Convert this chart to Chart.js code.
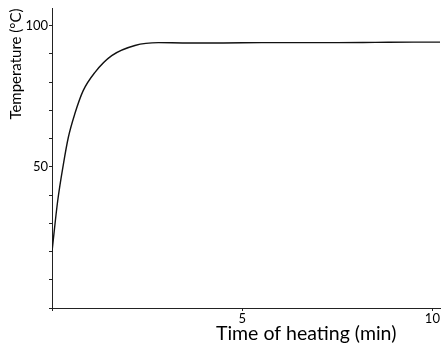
<!DOCTYPE html>
<html>
<head>
<meta charset="utf-8">
<script src="https://cdn.jsdelivr.net/npm/chart.js@4/dist/chart.umd.min.js"></script>
<style>
  html, body { margin: 0; padding: 0; background: #ffffff; }
  #wrap { width: 442px; height: 346px; }
</style>
</head>
<body>
<div id="wrap"><canvas id="heatChart" width="442" height="346"></canvas></div>
<script>
// heating time (min) and temperature (°C)
const times = [0, 0.15, 0.3, 0.43, 0.6, 0.82, 1.13, 1.57, 2.18, 2.8, 3.5, 4.5, 5.5, 6.5, 7.5, 8.5, 9.5, 10.2];
const temps = [20, 38, 51, 60.5, 68.8, 77, 83.5, 89.4, 93, 94, 93.9, 93.9, 94, 94, 94, 94.1, 94.2, 94.2];

const yLabelled = [50, 100];
const xLabelled = [5, 10];
const xTitle = 'Time of heating (min)';
const yTitle = 'Temperature (°C)';

const axisTitles = {
    id: 'axisTitles',
    afterDraw(chart) {
        const c = chart.ctx;
        const area = chart.chartArea;
        c.save();
        c.fillStyle = '#000';
        c.textAlign = 'center';
        c.textBaseline = 'middle';
        // x title, right of centre like the original
        c.font = '19.5px Lato';
        c.fillText(xTitle, area.left + 0.655 * (area.right - area.left), 334);
        // y title, near the top of the axis
        c.translate(16, 64);
        c.rotate(-Math.PI / 2);
        c.font = '15px Lato';
        c.fillText(yTitle, 0, 0);
        c.restore();
    }
};

ctx = document.getElementById('heatChart').getContext('2d');
Chart.defaults.color = '#000000';
Chart.defaults.font.family = 'Lato';

heatChart = new Chart(ctx, {
    type: 'line',
    data: {
        datasets: [
            { data: times.map((t, i) => ({x: t, y: temps[i]})), borderColor: '#111111', borderWidth: 1.4, fill: false, cubicInterpolationMode: 'monotone', pointRadius: 0 }
        ]
    },
    options: {
        responsive: false,
        animation: false,
        layout: {padding: {top: 7, right: 2, left: 0, bottom: 0}},
        plugins: {legend: {display: false}, tooltip: {enabled: false}},
        scales: {
            x: {
                type: 'linear',
                min: 0, max: 10.2,
                grid: {drawOnChartArea: false, color: '#222', tickLength: 3},
                border: {color: '#222', width: 1},
                ticks: {
                    stepSize: 5, includeBounds: false, padding: 0, maxRotation: 0,
                    font: {size: 13},
                    callback: v => xLabelled.includes(v) ? String(v) : ''
                },
                afterFit: s => { s.height = 38; }
            },
            y: {
                min: 0, max: 106,
                grid: {drawOnChartArea: false, color: '#222', tickLength: 3},
                border: {color: '#222', width: 1},
                ticks: {
                    stepSize: 10, includeBounds: false, padding: 1,
                    font: {size: 13},
                    callback: v => yLabelled.includes(v) ? String(v) : ''
                },
                afterFit: s => { s.width = 52; }
            }
        }
    },
    plugins: [axisTitles]
});
</script>
</body>
</html>
